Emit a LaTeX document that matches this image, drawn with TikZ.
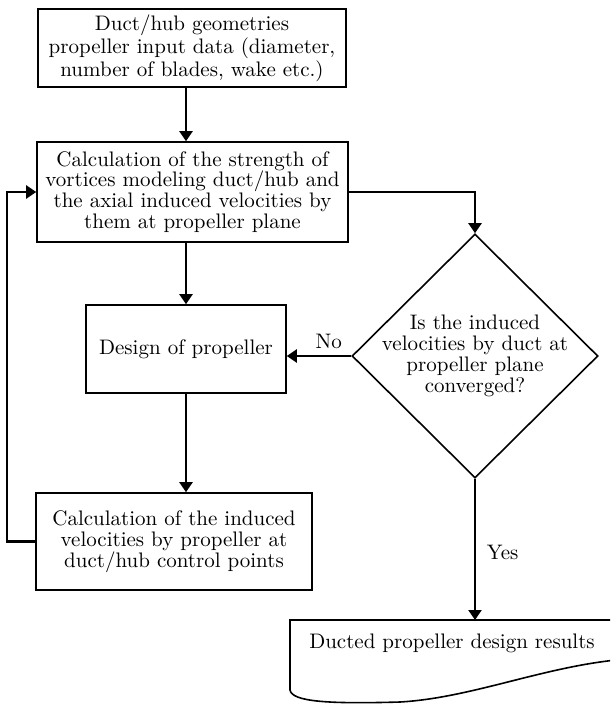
\documentclass[tikz,border=0pt]{standalone}
\usepackage{tikz}
\usetikzlibrary{arrows.meta, shapes.geometric, calc}
\tikzstyle{block} = [draw, rectangle, line width=.8pt, align=center, inner sep=2pt]
\tikzstyle{decision} = [draw, diamond, line width=.8pt, inner sep=0pt, minimum width=123pt, minimum height=122pt]
\tikzstyle{docbox} = [rectangle, inner xsep=0pt, inner ysep=7pt, anchor=north, minimum width=162pt]
\tikzstyle{flow} = [line width=1.1pt, -{Triangle[width=6.5pt,length=5pt]}]

\begin{document}
\begin{tikzpicture}[x=.5pt, y=-.5pt, every node/.style={font=\fontsize{10.5}{10.4}\selectfont}]
    \clip (0,0) rectangle (610,706);
    \draw (192,48) node[block, minimum width=154pt, minimum height=39pt] (input) {Duct/hub geometries\\ propeller input data (diameter,\\ number of blades, wake etc.)};
    \draw (192.5,192) node[block, minimum width=155.5pt, minimum height=50pt] (calc) {Calculation of the strength of\\ vortices modeling duct/hub and\\ the axial induced velocities by\\ them at propeller plane};
    \draw (186,349) node[block, minimum width=100pt, minimum height=44pt] (design) {Design of propeller};
    \draw (174,541.5) node[block, minimum width=138pt, minimum height=48.5pt] (report) {Calculation of the induced\\ velocities by propeller at\\ duct/hub control points};
    \draw (475,356) node[decision, label={[align=center]center:Is the induced\\ velocities by duct at\\ propeller plane\\ converged?}] (check) {};
    \draw (452,620) node[docbox] (result) {Ducted propeller design results};
    % document outline
    \draw[line width=.8pt] (616,620) -- (290,620) -- (290,690)
        .. controls (292,702) and (330,704) .. (400,702)
        .. controls (470,698) and (540,668) .. (616,660) -- cycle;
    % connectors
    \draw[flow] (input.south -| design.north) -- (calc.north -| design.north);
    \draw[flow] (calc.south -| design.north) -- (design.north);
    \draw[flow] (design.south) -- (report.north -| design.south);
    \draw[flow] (calc.east) -| (check.north);
    \draw[flow] (check.west) -- node[above, pos=.35] {No} (check.west -| design.east);
    \draw[flow] (check.south) -- node[right, pos=.52, xshift=2pt] {Yes} (check.south |- result.north);
    \draw[flow] (report.west) -- ++(-28,0) |- (calc.west);
\end{tikzpicture}
\end{document}
